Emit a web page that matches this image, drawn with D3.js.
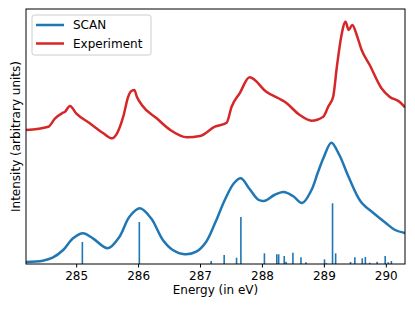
<!DOCTYPE html>
<html>
<head>
<meta charset="utf-8">
<script src="https://cdn.jsdelivr.net/npm/d3@7"></script>
<style>
  body { margin: 0; background: #fff; }
  svg text { font-family: "DejaVu Sans", sans-serif; }
</style>
</head>
<body>
<div id="chart"></div>
<script>
// SCAN broadened spectrum (energy, intensity)
const scanE = [284.19, 284.46, 284.62, 284.79, 284.95, 285.11, 285.27, 285.51, 285.7, 285.86, 286.03, 286.21, 286.4, 286.56,
  286.75, 286.94, 287.1, 287.25, 287.4, 287.55, 287.66, 287.8, 287.95, 288.05, 288.2, 288.35, 288.5, 288.65, 288.8,
  288.9, 289.0, 289.12, 289.25, 289.4, 289.6, 289.8, 290.0, 290.15, 290.31];
const scanI = [2, 3.3, 6.3, 14, 25.7, 30.7, 25.7, 15.7, 27.3, 47.3, 55.7, 45.7, 24, 14,
  9.7, 12.3, 22.3, 42, 64, 81, 85.7, 75, 64, 63.3, 69, 72, 68, 61, 74,
  91, 107, 121.3, 109, 87, 62, 51, 41, 34, 31];

// SCAN transitions (stick spectrum)
const stickE = [285.1, 286.02, 287.18, 287.39, 287.59, 287.66, 288.04, 288.24, 288.27, 288.36, 288.39, 288.5, 288.63, 288.71,
  289.01, 289.04, 289.14, 289.19, 289.43, 289.5, 289.62, 289.67, 289.74, 289.86, 289.99, 290.04, 290.09];
const stickI = [22, 42, 3, 9, 6.3, 47, 10.7, 9.7, 9.7, 8, 2.3, 11.3, 6.7, 1.7,
  4.7, 0.7, 60.7, 10.7, 2, 6.7, 5.7, 7, 1.3, 2.3, 8, 1.7, 3];

// Experiment
const expE = [284.19, 284.55, 284.66, 284.77, 284.82, 284.9, 285.0, 285.22, 285.44, 285.58, 285.66, 285.76, 285.84, 285.88,
  285.94, 285.98, 286.06, 286.3, 286.52, 286.79, 287.0, 287.24, 287.43, 287.51, 287.64, 287.8, 288.07, 288.4, 288.61,
  288.8, 288.99, 289.07, 289.15, 289.21, 289.28, 289.35, 289.4, 289.46, 289.53, 289.61, 289.74, 289.93, 290.06, 290.22, 290.31];
const expI = [134, 137.3, 145.7, 150.7, 152.3, 158, 150.7, 140.7, 130.7, 125.7, 130.7, 147.3, 167.3, 172.3,
  174, 167.3, 159, 145.7, 134, 126.7, 128, 137.3, 141.3, 157.3, 170.7, 186.7, 172.3, 160.7, 149,
  143.3, 147.3, 157.3, 167.3, 197.3, 227.3, 242.3, 234, 239, 229, 214, 199, 175.7, 167.3, 162.3, 156.7];

const xTicks = [285, 286, 287, 288, 289, 290];

const W = 415, H = 309;
const margin = {left: 26, right: 10, top: 9, bottom: 45};
const w = W - margin.left - margin.right, h = H - margin.top - margin.bottom;
const fs = "12px";

const svg = d3.select("#chart").append("svg").attr("width", W).attr("height", H);
const g = svg.append("g").attr("transform", "translate(" + margin.left + "," + margin.top + ")");

let x = d3.scaleLinear().domain([284.19, 290.31]).range([0, w]);
let y = d3.scaleLinear().domain([0, 255]).range([h, 0]);

g.append("clipPath").attr("id", "clip").append("rect").attr("width", w).attr("height", h);
const plot = g.append("g").attr("clip-path", "url(#clip)");

// sticks
plot.selectAll(".stick")
  .data(stickE)
  .enter().append("line")
  .attr("class", "stick")
  .attr("x1", d => x(d)).attr("x2", d => x(d))
  .attr("y1", y(0))
  .attr("y2", (d, i) => y(stickI[i]))
  .style("stroke", "#1f77b4")
  .style("stroke-width", 1.6);

let scanLine = d3.line()
  .curve(d3.curveCatmullRom.alpha(0.5))
  .x(d => x(d[0]))
  .y(d => y(d[1]));

let expLine = d3.line()
  .curve(d3.curveMonotoneX)
  .x(d => x(d[0]))
  .y(d => y(d[1]));

plot.append("path")
  .attr("d", scanLine(scanE.map((e, i) => [e, scanI[i]])))
  .style("fill", "none").style("stroke", "#1f77b4").style("stroke-width", 2.5);

plot.append("path")
  .attr("d", expLine(expE.map((e, i) => [e, expI[i]])))
  .style("fill", "none").style("stroke", "#d62728").style("stroke-width", 2.5);

// axes
const xAxis = g.append("g")
  .attr("transform", "translate(0," + h + ")")
  .call(d3.axisBottom(x).tickValues(xTicks).tickFormat(d3.format("d")).tickSizeOuter(0).tickSize(3.5).tickPadding(3.5));
xAxis.select(".domain").remove();
xAxis.selectAll("text").style("font-size", fs).style("font-family", "DejaVu Sans").attr("fill", "#000");
xAxis.selectAll("line").attr("stroke", "#000");

g.append("rect")
  .attr("width", w).attr("height", h)
  .style("fill", "none").style("stroke", "#000").style("stroke-width", 1);

svg.append("text")
  .attr("x", margin.left + w / 2).attr("y", 294)
  .attr("text-anchor", "middle").style("font-size", fs)
  .text("Energy (in eV)");

svg.append("text")
  .attr("transform", "translate(20," + (margin.top + h / 2) + ") rotate(-90)")
  .attr("text-anchor", "middle").style("font-size", fs)
  .text("Intensity (arbitrary units)");

// legend
const leg = g.append("g").attr("transform", "translate(6,6)");
leg.append("rect")
  .attr("width", 119).attr("height", 40).attr("rx", 2.5)
  .style("fill", "#fff").style("fill-opacity", 0.8)
  .style("stroke", "#ccc").style("stroke-width", 1);
const items = [["SCAN", "#1f77b4"], ["Experiment", "#d62728"]];
items.forEach(function(it, i) {
  let yy = 10 + i * 18.5;
  leg.append("line")
    .attr("x1", 4).attr("x2", 32).attr("y1", yy).attr("y2", yy)
    .style("stroke", it[1]).style("stroke-width", 2.5);
  leg.append("text")
    .attr("x", 41).attr("y", yy + 4.3)
    .style("font-size", fs)
    .text(it[0]);
});
</script>
</body>
</html>
